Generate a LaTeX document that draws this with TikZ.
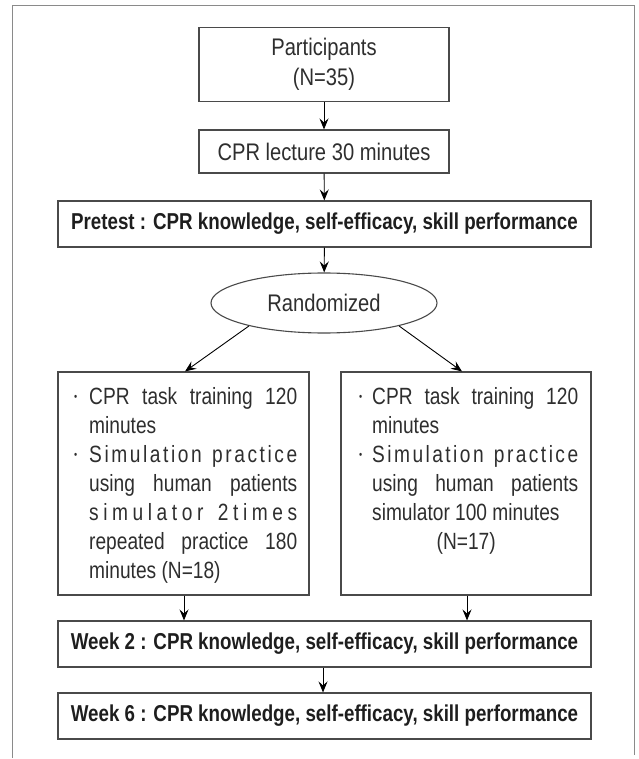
\documentclass[tikz,border=0pt]{standalone}
\usepackage{fontspec}
\setmainfont{Liberation Sans}[FakeStretch=0.84]
\newfontfamily\hdfont{Liberation Sans}[FakeStretch=0.815]
\newfontfamily\sidefam{Liberation Sans}[FakeStretch=0.815]
\usetikzlibrary{shapes.geometric,arrows.meta,calc}
\definecolor{framecol}{HTML}{8A8A8A}
\definecolor{boxcol}{HTML}{4A4A4A}
\definecolor{txt}{HTML}{2E2E2E}
\definecolor{hdtxt}{HTML}{1E1E1E}
\newcommand{\bulA}{\makebox[15pt][l]{\fontsize{11}{11}\selectfont\raisebox{4pt}{•}}}
\newcommand{\bulB}{\makebox[13pt][l]{\fontsize{11}{11}\selectfont\raisebox{4pt}{•}}}
\newcommand{\sidefont}{\sidefam\fontsize{23.5}{29}\selectfont\baselineskip=29pt\lineskiplimit=-100pt\relax}
\begin{document}
\begin{tikzpicture}[x=1pt,y=-1pt,
  boxnode/.style={draw=boxcol, line width=1.1pt, inner sep=0pt, text=txt},
  plain/.style={boxnode, font=\fontsize{24}{30}\selectfont, align=center},
  hd/.style={boxnode, minimum width=533pt, minimum height=46pt, text=hdtxt,
     font=\hdfont\bfseries\fontsize{23}{26}\selectfont},
  arr/.style={draw=black, line width=0.9pt, -{Stealth[length=11pt,width=9pt,inset=4pt]}},
  sidetext/.style={anchor=base west, inner sep=0pt, text=txt}
]
\useasboundingbox (0,0) rectangle (638,759);
% frame
\draw[framecol, line width=1pt] (12.7,758) -- (12.7,6) -- (634.5,6) -- (634.5,755);

\node[plain, minimum width=250pt, minimum height=74pt] (P) at (324,64.5) {Participants\\(N=35)};
\node[plain, minimum width=250pt, minimum height=43pt] (Lec) at (324,151.5) {CPR lecture 30 minutes};
\node[hd] (Pre) at (324.5,224) {Pretest : CPR knowledge, self-efficacy, skill performance};
\node[ellipse, draw=boxcol, line width=1.1pt, minimum width=226pt, minimum height=60pt, inner sep=0pt,
      text=txt, font=\fontsize{24}{26}\selectfont] (Rnd) at (324,303) {Randomized};
\node[boxnode, minimum width=251pt, minimum height=223pt] (L) at (183.5,483.5) {};
\node[boxnode, minimum width=250pt, minimum height=223pt] (R) at (466,483.5) {};
\node[hd] (W2) at (324.5,644) {Week 2 : CPR knowledge, self-efficacy, skill performance};
\node[hd] (W6) at (324.5,716) {Week 6 : CPR knowledge, self-efficacy, skill performance};

\node[sidetext] (Ltxt) at (74,404) {\parbox[t]{230pt}{\sidefont
\bulA\makebox[208pt][s]{CPR task training 120}\\
\hspace*{15pt}minutes\\
\bulA\makebox[208pt][s]{S\hfil i\hfil m\hfil u\hfil l\hfil a\hfil t\hfil i\hfil o\hfil n\hfil\ \hfil p\hfil r\hfil a\hfil c\hfil t\hfil i\hfil c\hfil e}\\
\hspace*{15pt}\makebox[208pt][s]{using human patients}\\
\hspace*{15pt}\makebox[208pt][s]{s\hfil i\hfil m\hfil u\hfil l\hfil a\hfil t\hfil o\hfil r\hfil\ \hfil 2\hfil t\hfil i\hfil m\hfil e\hfil s}\\
\hspace*{15pt}\makebox[208pt][s]{repeated practice 180}\\
\hspace*{15pt}minutes (N=18)}};

\node[sidetext] (Rtxt) at (359,404) {\parbox[t]{225pt}{\sidefont
\bulB\makebox[206pt][s]{CPR task training 120}\\
\hspace*{13pt}minutes\\
\bulB\makebox[206pt][s]{S\hfil i\hfil m\hfil u\hfil l\hfil a\hfil t\hfil i\hfil o\hfil n\hfil\ \hfil p\hfil r\hfil a\hfil c\hfil t\hfil i\hfil c\hfil e}\\
\hspace*{13pt}\makebox[206pt][s]{using human patients}\\
\hspace*{13pt}simulator 100 minutes\\
\hspace*{13pt}\makebox[188pt]{(N=17)}}};

\draw[arr] (P) -- (Lec);
\draw[arr] (Lec) -- (Pre);
\draw[arr] (Pre) -- (Rnd);
\draw[arr] (Rnd.197) -- ([xshift=1.5pt]L.north);
\draw[arr] (Rnd.-17) -- ([xshift=-4pt]R.north);
\draw[arr] ([xshift=0.5pt]L.south) -- ([xshift=0.5pt]L.south |- W2.north);
\draw[arr] ([xshift=1pt]R.south) -- ([xshift=1pt]R.south |- W2.north);
\draw[arr] ([xshift=-1.5pt]W2.south) -- ([xshift=-1.5pt]W6.north);
\end{tikzpicture}
\end{document}
